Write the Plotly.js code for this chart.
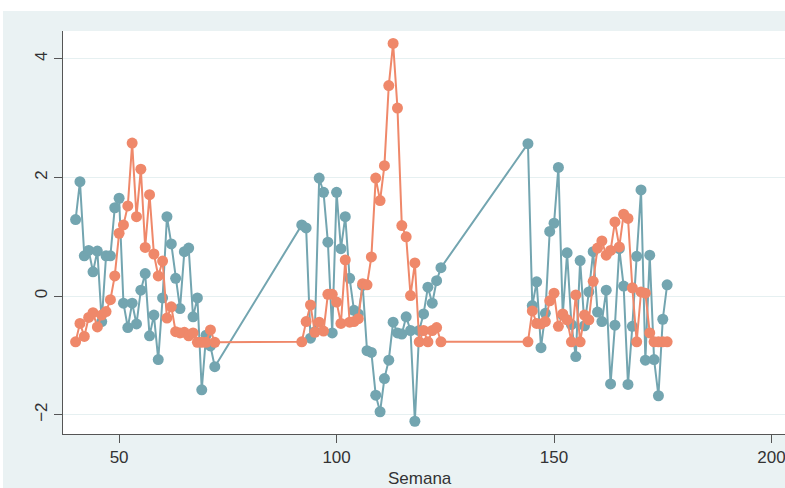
<!DOCTYPE html>
<html>
<head>
<meta charset="utf-8">
<script src="https://cdn.plot.ly/plotly-3.0.1.min.js"></script>
<style>
html,body{margin:0;padding:0;background:#ffffff;overflow:hidden;width:785px;height:488px;}
#chart{position:absolute;left:3px;top:11px;width:782px;height:477px;}
</style>
</head>
<body>
<div id="chart"></div>
<script>
// Weeks (Semana)
const weeks = [
  40,41,42,43,44,45,46,47,48,49,50,51,52,53,54,55,56,57,58,59,60,61,62,63,64,65,66,67,68,69,70,71,72,
  92,93,94,95,96,97,98,99,100,101,102,103,104,105,106,107,108,109,110,111,112,113,114,115,116,117,118,119,120,121,122,123,124,
  144,145,146,147,148,149,150,151,152,153,154,155,156,157,158,159,160,161,162,163,164,165,166,167,168,169,170,171,172,173,174,175,176
];
// Teal series
const tealValues = [
  1.29,1.93,0.68,0.77,0.41,0.76,-0.43,0.68,0.68,1.49,1.65,-0.12,-0.53,-0.12,-0.47,0.10,0.38,-0.67,-0.32,-1.07,-0.03,1.34,0.88,0.30,-0.21,0.75,0.81,-0.35,-0.03,-1.58,-0.66,-0.84,-1.19,
  1.20,1.15,-0.71,-0.60,1.99,1.75,0.91,-0.62,1.75,0.80,1.34,0.30,-0.24,-0.30,0.18,-0.92,-0.95,-1.67,-1.95,-1.39,-1.08,-0.44,-0.62,-0.64,-0.35,-0.58,-2.11,-0.58,-0.30,0.15,-0.12,0.26,0.48,
  2.57,-0.16,0.24,-0.87,-0.29,1.09,1.23,2.17,-0.32,0.73,-0.48,-1.02,0.60,-0.50,0.07,0.75,-0.27,-0.43,0.10,-1.48,-0.49,0.80,0.17,-1.49,-0.51,0.67,1.79,-1.08,0.69,-1.07,-1.68,-0.39,0.19
];
// Orange series
const orangeValues = [
  -0.77,-0.46,-0.68,-0.36,-0.28,-0.52,-0.32,-0.26,-0.06,0.34,1.06,1.20,1.52,2.58,1.34,2.14,0.82,1.71,0.71,0.34,0.59,-0.37,-0.18,-0.60,-0.62,-0.61,-0.67,-0.62,-0.78,-0.78,-0.78,-0.57,-0.78,
  -0.77,-0.43,-0.15,-0.61,-0.44,-0.59,0.03,0.03,-0.10,-0.46,0.61,-0.44,-0.43,-0.38,0.21,0.19,0.66,1.99,1.61,2.20,3.55,4.26,3.17,1.19,1.00,0.01,0.56,-0.77,-0.58,-0.77,-0.58,-0.53,-0.77,
  -0.77,-0.25,-0.46,-0.47,-0.43,-0.08,0.05,-0.51,-0.30,-0.40,-0.77,0.02,-0.77,-0.32,-0.40,0.25,0.81,0.93,0.69,0.77,1.25,0.83,1.38,1.31,0.14,-0.77,0.07,0.05,-0.62,-0.77,-0.77,-0.77,-0.77
];
const xTicks = [50,100,150,200];
const yTicks = [-2,0,2,4];
const xTitle = "Semana";

const teal = '#73a5b0';
const orange = '#ef886a';
const font = 'Liberation Sans, Arial, sans-serif';

const traces = [
  {x: weeks, y: tealValues, type: 'scatter', mode: 'lines+markers',
   line: {color: teal, width: 2}, marker: {color: teal, size: 11}, hoverinfo: 'skip'},
  {x: weeks, y: orangeValues, type: 'scatter', mode: 'lines+markers',
   line: {color: orange, width: 2}, marker: {color: orange, size: 11}, hoverinfo: 'skip'}
];

const layout = {
  width: 782, height: 477,
  paper_bgcolor: '#eaf2f3', plot_bgcolor: '#ffffff',
  margin: {l: 60, r: 0, t: 20, b: 54, pad: 0},
  showlegend: false,
  font: {family: font, size: 17, color: '#333333'},
  xaxis: {
    range: [37.1, 203.1], tickvals: xTicks, ticktext: xTicks.map(String),
    showgrid: false, zeroline: false, showline: true, linecolor: '#555555', linewidth: 1,
    ticks: 'outside', ticklen: 8, tickcolor: '#555555', tickwidth: 1,
    ticklabeloverflow: 'allow',
    tickfont: {family: font, size: 17, color: '#333333'}
  },
  yaxis: {
    range: [-2.325, 4.47], tickvals: yTicks, ticktext: ['\u22122','0','2','4'],
    showgrid: true, gridcolor: '#e6f0f1', gridwidth: 1, zeroline: false,
    showline: true, linecolor: '#555555', linewidth: 1,
    ticks: 'outside', ticklen: 8, tickcolor: '#555555', tickwidth: 1, tickangle: -90,
    tickfont: {family: font, size: 17, color: '#333333'}
  },
  annotations: [{
    text: xTitle, xref: 'paper', yref: 'paper', x: 0.4938, y: 0, yshift: -44,
    xanchor: 'center', yanchor: 'middle', showarrow: false,
    font: {family: font, size: 17, color: '#333333'}
  }]
};

Plotly.newPlot('chart', traces, layout, {displayModeBar: false, staticPlot: true});
</script>
</body>
</html>
